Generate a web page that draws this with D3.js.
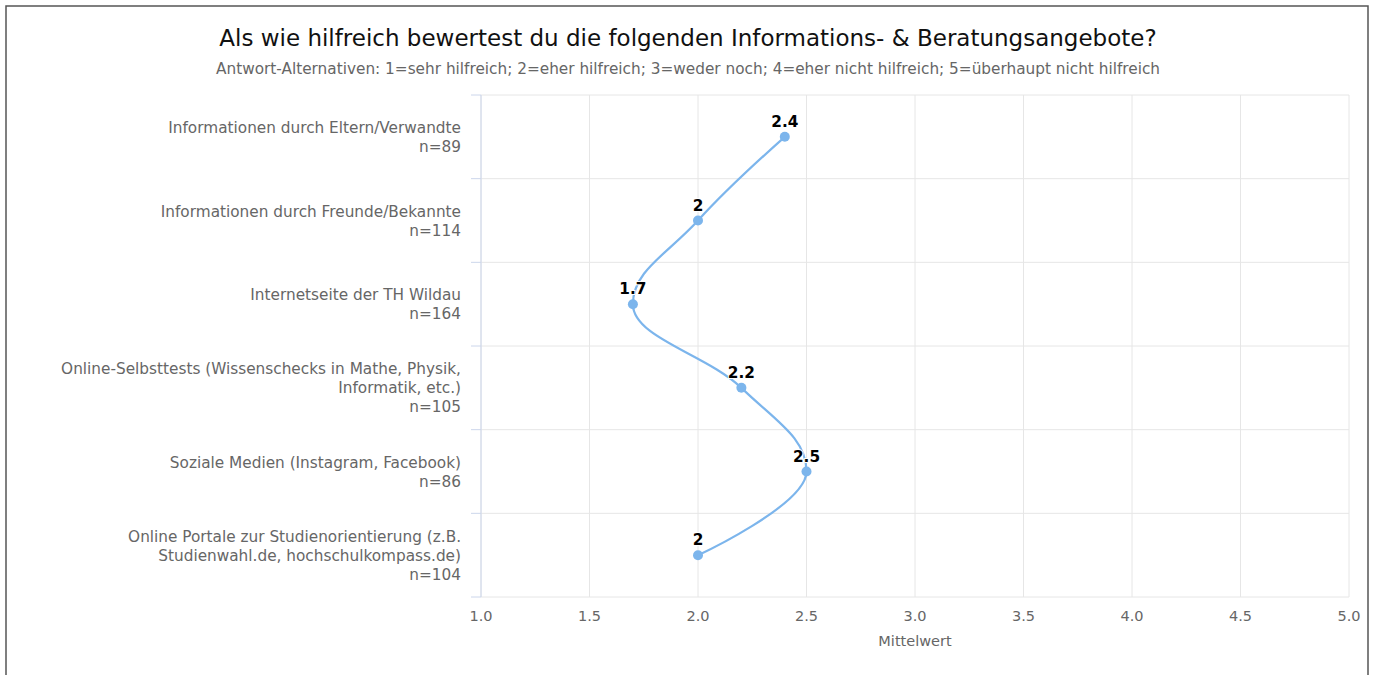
<!DOCTYPE html>
<html>
  <head>
    <meta charset="utf-8" />
    <script src="https://d3js.org/d3.v7.min.js"></script>
    <style>
      body { margin: 0; background: #fff; }
      text { font-family: "DejaVu Sans", sans-serif; }
    </style>
  </head>
  <body>
    <div id="my_dataviz"></div>
    <script>
      // data
      var categories = [
        ["Informationen durch Eltern/Verwandte", "n=89"],
        ["Informationen durch Freunde/Bekannte", "n=114"],
        ["Internetseite der TH Wildau", "n=164"],
        ["Online-Selbsttests (Wissenschecks in Mathe, Physik,", "Informatik, etc.)", "n=105"],
        ["Soziale Medien (Instagram, Facebook)", "n=86"],
        ["Online Portale zur Studienorientierung (z.B.", "Studienwahl.de, hochschulkompass.de)", "n=104"]
      ];
      var values = [2.4, 2, 1.7, 2.2, 2.5, 2];
      var xTicks = [1, 1.5, 2, 2.5, 3, 3.5, 4, 4.5, 5];
      var title = "Als wie hilfreich bewertest du die folgenden Informations- & Beratungsangebote?";
      var subtitle = "Antwort-Alternativen: 1=sehr hilfreich; 2=eher hilfreich; 3=weder noch; 4=eher nicht hilfreich; 5=überhaupt nicht hilfreich";

      var W = 1375, H = 675;
      var margin = { top: 95, right: 26, bottom: 78, left: 481 };
      var width = W - margin.left - margin.right,
        height = H - margin.top - margin.bottom;

      var root = d3.select("#my_dataviz").append("svg")
        .attr("width", W).attr("height", H);

      // outer border
      root.append("rect")
        .attr("x", 6).attr("y", 6)
        .attr("width", 1362).attr("height", 720)
        .attr("fill", "none")
        .attr("stroke", "#555")
        .attr("stroke-width", 1.5);

      root.append("text")
        .attr("x", 688).attr("y", 46)
        .attr("text-anchor", "middle")
        .style("font-size", "23px")
        .style("fill", "#111")
        .text(title);

      root.append("text")
        .attr("x", 688).attr("y", 74)
        .attr("text-anchor", "middle")
        .style("font-size", "15.3px")
        .style("fill", "#666")
        .text(subtitle);

      var svg = root.append("g")
        .attr("transform", "translate(" + margin.left + "," + margin.top + ")");

      var x = d3.scaleLinear().domain([1, 5]).range([0, width]);
      var y = d3.scaleBand().domain(d3.range(categories.length)).range([0, height]);

      // vertical grid
      svg.append("g").selectAll("line").data(xTicks).enter().append("line")
        .attr("x1", function (d) { return x(d); })
        .attr("x2", function (d) { return x(d); })
        .attr("y1", 0).attr("y2", height)
        .attr("stroke", "#e6e6e6");

      // horizontal grid at category boundaries
      var bounds = d3.range(categories.length + 1).map(function (i) { return i * y.step(); });
      svg.append("g").selectAll("line").data(bounds).enter().append("line")
        .attr("x1", 0).attr("x2", width)
        .attr("y1", function (d) { return d; })
        .attr("y2", function (d) { return d; })
        .attr("stroke", "#e6e6e6");

      // left axis line + ticks
      svg.append("line")
        .attr("x1", 0).attr("x2", 0).attr("y1", 0).attr("y2", height)
        .attr("stroke", "#ccd6eb");
      svg.append("g").selectAll("line").data(bounds).enter().append("line")
        .attr("x1", -10).attr("x2", 0)
        .attr("y1", function (d) { return d; })
        .attr("y2", function (d) { return d; })
        .attr("stroke", "#ccd6eb");

      // category labels
      var lineH = 19;
      var lab = svg.append("g").selectAll("text").data(categories).enter().append("text")
        .attr("text-anchor", "end")
        .style("font-size", "15.3px")
        .style("fill", "#666")
        .attr("transform", function (d, i) {
          var cy = y(i) + y.bandwidth() / 2;
          return "translate(-20," + (cy - (d.length - 1) * lineH / 2 + 5.5) + ")";
        });
      lab.selectAll("tspan").data(function (d) { return d; }).enter().append("tspan")
        .attr("x", 0)
        .attr("dy", function (d, i) { return i === 0 ? 0 : lineH; })
        .text(function (d) { return d; });

      // bottom axis labels
      svg.append("g").selectAll("text").data(xTicks).enter().append("text")
        .attr("x", function (d) { return x(d); })
        .attr("y", height + 24)
        .attr("text-anchor", "middle")
        .style("font-size", "14.5px")
        .style("fill", "#666")
        .text(function (d) { return d.toFixed(1); });

      svg.append("text")
        .attr("x", width / 2).attr("y", height + 49)
        .attr("text-anchor", "middle")
        .style("font-size", "14.5px")
        .style("fill", "#666")
        .text("Mittelwert");

      // spline, highcharts style (a = category direction, b = value direction)
      var pts = values.map(function (v, i) {
        return { a: y(i) + y.bandwidth() / 2, b: x(v), v: v };
      });
      var sm = 1.5, den = 2.5;
      pts.forEach(function (p, i) {
        var last = pts[i - 1], next = pts[i + 1];
        if (!last || !next) return;
        var lA = (sm * p.a + last.a) / den, lB = (sm * p.b + last.b) / den;
        var rA = (sm * p.a + next.a) / den, rB = (sm * p.b + next.b) / den;
        var corr = 0;
        if (rA !== lA) corr = ((rB - lB) * (rA - p.a)) / (rA - lA) + p.b - rB;
        lB += corr; rB += corr;
        if (lB > last.b && lB > p.b) { lB = Math.max(last.b, p.b); rB = 2 * p.b - lB; }
        else if (lB < last.b && lB < p.b) { lB = Math.min(last.b, p.b); rB = 2 * p.b - lB; }
        if (rB > next.b && rB > p.b) { rB = Math.max(next.b, p.b); lB = 2 * p.b - rB; }
        else if (rB < next.b && rB < p.b) { rB = Math.min(next.b, p.b); lB = 2 * p.b - rB; }
        p.lA = lA; p.lB = lB; p.rA = rA; p.rB = rB;
      });
      var path = d3.path();
      pts.forEach(function (p, i) {
        if (i === 0) { path.moveTo(p.b, p.a); return; }
        var last = pts[i - 1];
        path.bezierCurveTo(
          last.rB !== undefined ? last.rB : last.b,
          last.rA !== undefined ? last.rA : last.a,
          p.lB !== undefined ? p.lB : p.b,
          p.lA !== undefined ? p.lA : p.a,
          p.b, p.a);
      });
      svg.append("path")
        .attr("d", path.toString())
        .attr("fill", "none")
        .attr("stroke", "#7cb5ec")
        .attr("stroke-width", 2.2);

      svg.append("g").selectAll("circle").data(pts).enter().append("circle")
        .attr("cx", function (d) { return d.b; })
        .attr("cy", function (d) { return d.a; })
        .attr("r", 5)
        .attr("fill", "#7cb5ec");

      svg.append("g").selectAll("text").data(pts).enter().append("text")
        .attr("x", function (d) { return d.b; })
        .attr("y", function (d) { return d.a - 10; })
        .attr("text-anchor", "middle")
        .style("font-size", "15.3px")
        .style("font-weight", "bold")
        .style("fill", "#000")
        .style("stroke", "#fff")
        .style("stroke-width", 2)
        .style("paint-order", "stroke")
        .text(function (d) { return d.v; });
    </script>
  </body>
</html>
